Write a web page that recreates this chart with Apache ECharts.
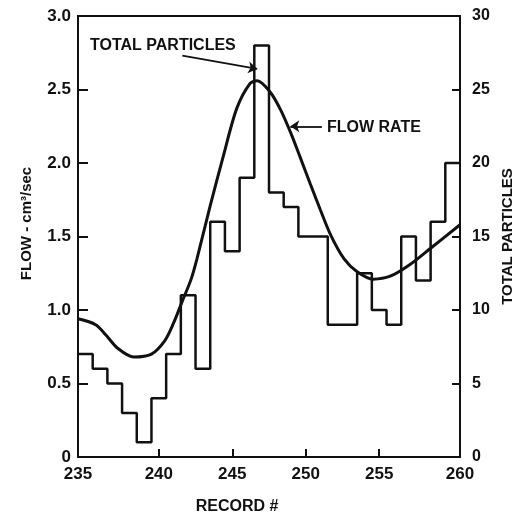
<!DOCTYPE html>
<html>
<head>
<meta charset="utf-8">
<script src="https://cdn.jsdelivr.net/npm/echarts@6/dist/echarts.min.js"></script>
<style>
html,body{margin:0;padding:0;background:#fff;}
#chart{width:515px;height:517px;}
</style>
</head>
<body>
<div id="chart"></div>
<script>
// Record numbers (x) and total particles per record (right axis)
const records = [235,236,237,238,239,240,241,242,243,244,245,246,247,248,249,250,251,252,253,254,255,256,257,258,259,260];
const particles = [7,6,5,3,1,4,7,11,6,16,14,19,28,18,17,15,15,9,9,12.5,10,9,15,12,16,20];

// Flow rate curve (left axis), sampled along the drawn curve
const flowRecord = [234.5,235.7,236.4,237.2,238.3,239.5,240.4,241.0,241.6,242.2,242.6,243.5,244.4,245.3,246.2,246.7,247.6,248.3,249.0,249.6,250.3,251.0,251.7,252.6,253.5,254.6,255.75,257.1,258.5,260.5];
const flowRate   = [0.94,0.90,0.83,0.74,0.68,0.70,0.79,0.91,1.06,1.21,1.35,1.71,2.05,2.37,2.54,2.56,2.48,2.36,2.20,2.045,1.86,1.68,1.51,1.35,1.26,1.21,1.23,1.31,1.42,1.58];

// Axis tick labels
const xTickValues = [240,245,250,255];
const xLabelValues = [234.5,240,245,250,255,260.5];
const xLabelText = ['235','240','245','250','255','260'];

const FONT = '"Liberation Sans", Arial, sans-serif';
const INK = '#111';

const stepData = records.map((r,i)=>[r-0.5, particles[i]]);
stepData.push([records[records.length-1]+0.5, particles[particles.length-1]]);
const flowData = flowRecord.map((r,i)=>[r, flowRate[i]]);

const chart = echarts.init(document.getElementById('chart'), null, {renderer:'canvas'});
chart.setOption({
  animation:false,
  backgroundColor:'#fff',
  grid:{left:78, right:55, top:16, bottom:60, show:true, borderColor:INK, borderWidth:2, backgroundColor:'transparent', containLabel:false, outerBoundsMode:'none'},
  xAxis:{
    type:'value', min:234.5, max:260.5,
    name:'RECORD #', nameLocation:'middle', nameGap:42,
    nameTextStyle:{fontFamily:FONT, fontWeight:'bold', fontSize:16, color:INK, padding:[0,64,0,0]},
    axisLine:{show:true, lineStyle:{color:INK, width:2}},
    axisTick:{show:true, inside:true, length:8, customValues:xTickValues, lineStyle:{color:INK, width:2}},
    axisLabel:{show:true, margin:9, customValues:xLabelValues,
      formatter:function(v){ const i = xLabelValues.indexOf(v); return i>=0 ? xLabelText[i] : ''; },
      fontFamily:FONT, fontWeight:'bold', fontSize:17, color:INK},
    splitLine:{show:false}
  },
  yAxis:[{
    type:'value', min:0, max:3, interval:0.5, position:'left',
    name:'FLOW - cm\u00b3/sec', nameLocation:'middle', nameGap:44, nameRotate:90,
    nameTextStyle:{fontFamily:FONT, fontWeight:'bold', fontSize:15, color:INK, padding:[0,0,0,26]},
    axisLine:{show:true, lineStyle:{color:INK, width:2}},
    axisTick:{show:true, inside:true, length:10, lineStyle:{color:INK, width:2}},
    axisLabel:{margin:7, formatter:function(v){return v===0?'0':v.toFixed(1);},
      fontFamily:FONT, fontWeight:'bold', fontSize:17, color:INK},
    splitLine:{show:false}
  },{
    type:'value', min:0, max:30, interval:5, position:'right',
    name:'TOTAL PARTICLES', nameLocation:'middle', nameGap:36, nameRotate:90,
    nameTextStyle:{fontFamily:FONT, fontWeight:'bold', fontSize:15, color:INK},
    axisLine:{show:true, lineStyle:{color:INK, width:2}},
    axisTick:{show:true, inside:true, length:8, lineStyle:{color:INK, width:2}},
    axisLabel:{margin:12, fontFamily:FONT, fontWeight:'bold', fontSize:16, color:INK},
    splitLine:{show:false}
  }],
  graphic:[
    {type:'text', left:90, top:38, style:{text:'TOTAL PARTICLES', font:'bold 16px '+FONT, fill:INK}},
    {type:'text', left:327, top:120, style:{text:'FLOW RATE', font:'bold 16px '+FONT, fill:INK}}
  ],
  series:[{
    type:'line', name:'Total particles', yAxisIndex:1, step:'end',
    data:stepData, showSymbol:false, symbol:'none',
    lineStyle:{color:INK, width:2.5}, z:2
  },{
    type:'line', name:'Flow rate', yAxisIndex:0, smooth:0.3,
    data:flowData, showSymbol:false, symbol:'none',
    lineStyle:{color:INK, width:3}, z:3,
    markLine:{
      silent:true, symbol:['none','arrow'], symbolSize:9,
      label:{show:false},
      lineStyle:{color:INK, width:1.8, type:'solid'},
      data:[
        [{coord:[241.6,2.73]},{coord:[246.7,2.64]}],
        [{coord:[251.1,2.25]},{coord:[248.95,2.25]}]
      ]
    }
  }]
});
</script>
</body>
</html>
